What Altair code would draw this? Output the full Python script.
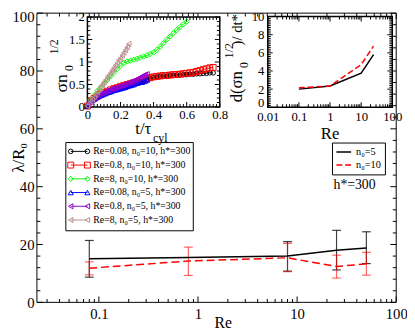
import altair as alt
import pandas as pd

FONT = "Liberation Serif"

# ---------------- main panel data ----------------
re_main = [0.08, 0.8, 8, 25, 50]
lam_n5 = [15.1, 15.5, 16.0, 18.0, 18.8]
lam_n10 = [11.8, 14.3, 15.4, 12.4, 13.3]
n5_lo = [8.7, None, 10.8, 11.2, 13.4]
n5_hi = [21.4, None, 21.0, 24.9, 24.4]
n10_lo = [9.5, 9.3, 10.6, 8.4, 9.4]
n10_hi = [14.0, 19.1, 20.4, 16.3, 17.3]

# ---------------- right inset data ----------------
re_rate = [0.1, 1, 10, 25]
rate_n5 = [2.0, 2.35, 3.75, 5.8]
rate_n10 = [2.15, 2.35, 4.7, 6.75]

# ---------------- left inset data ----------------
t_long = [0.00, 0.02, 0.04, 0.06, 0.08, 0.10, 0.12, 0.14, 0.16, 0.18, 0.20, 0.22, 0.24,
          0.26, 0.28, 0.30, 0.32, 0.34, 0.36, 0.38, 0.40, 0.42, 0.44, 0.46, 0.48, 0.50,
          0.52, 0.54, 0.56, 0.58, 0.60, 0.62, 0.64, 0.66, 0.68, 0.70, 0.72, 0.74, 0.76]
s_black = [0.02, 0.12, 0.18, 0.23, 0.27, 0.31, 0.34, 0.37, 0.40, 0.42, 0.45, 0.47, 0.49,
           0.51, 0.53, 0.55, 0.57, 0.59, 0.62, 0.64, 0.66, 0.67, 0.68, 0.69, 0.69, 0.70,
           0.70, 0.71, 0.71, 0.72, 0.72, 0.73, 0.73, 0.74, 0.74, 0.75, 0.75, 0.76, 0.76]
s_red = [0.02, 0.13, 0.19, 0.24, 0.28, 0.32, 0.35, 0.38, 0.41, 0.43, 0.46, 0.48, 0.50,
         0.52, 0.54, 0.56, 0.58, 0.61, 0.63, 0.65, 0.67, 0.68, 0.69, 0.70, 0.70, 0.71,
         0.72, 0.72, 0.73, 0.74, 0.75, 0.76, 0.77, 0.79, 0.81, 0.83, 0.85, 0.87, 0.88]
t_green = [0.00, 0.02, 0.04, 0.06, 0.08, 0.10, 0.12, 0.14, 0.16, 0.18, 0.20, 0.22, 0.24,
           0.26, 0.28, 0.30, 0.32, 0.34, 0.36, 0.38, 0.40, 0.42, 0.44, 0.46, 0.48, 0.50,
           0.52, 0.54, 0.56, 0.58, 0.60]
s_green = [0.02, 0.15, 0.26, 0.36, 0.44, 0.52, 0.60, 0.68, 0.76, 0.84, 0.92, 0.98, 1.01,
           1.03, 1.05, 1.07, 1.10, 1.12, 1.15, 1.18, 1.21, 1.27, 1.34, 1.42, 1.50, 1.57,
           1.64, 1.71, 1.78, 1.84, 1.90]
t_short = [0.00, 0.01, 0.02, 0.03, 0.04, 0.05, 0.06, 0.07, 0.08, 0.09, 0.10, 0.11, 0.12,
           0.13, 0.14, 0.15, 0.16, 0.17, 0.18, 0.19, 0.20, 0.21, 0.22, 0.23, 0.24, 0.25,
           0.26, 0.27, 0.28, 0.29, 0.30, 0.31, 0.32, 0.33, 0.34, 0.35, 0.36]
s_blue = [0.02, 0.08, 0.12, 0.15, 0.18, 0.20, 0.22, 0.24, 0.26, 0.27, 0.29, 0.30, 0.32,
          0.33, 0.34, 0.36, 0.37, 0.38, 0.39, 0.40, 0.41, 0.42, 0.43, 0.44, 0.46, 0.47,
          0.48, 0.49, 0.50, 0.52, 0.53, 0.54, 0.56, 0.55, 0.57, 0.58, 0.60]
s_purple = [0.02, 0.09, 0.13, 0.17, 0.20, 0.23, 0.25, 0.27, 0.29, 0.31, 0.33, 0.34, 0.36,
            0.37, 0.39, 0.40, 0.41, 0.43, 0.44, 0.45, 0.47, 0.48, 0.49, 0.51, 0.52, 0.54,
            0.55, 0.57, 0.58, 0.60, 0.62, 0.64, 0.66, 0.68, 0.70, 0.72, 0.73]
t_brown = [0.00, 0.01, 0.02, 0.03, 0.04, 0.05, 0.06, 0.07, 0.08, 0.09, 0.10, 0.11, 0.12,
           0.13, 0.14, 0.15, 0.16, 0.17, 0.18, 0.19, 0.20, 0.21, 0.22, 0.23, 0.24, 0.25]
s_brown = [0.02, 0.07, 0.12, 0.17, 0.22, 0.27, 0.33, 0.38, 0.44, 0.49, 0.55, 0.60, 0.66,
           0.71, 0.76, 0.82, 0.87, 0.93, 0.98, 1.04, 1.09, 1.15, 1.21, 1.27, 1.33, 1.40]

series_labels = ["Re=0.08, n\u2080=10,  h*=300", "Re=0.8, n\u2080=10, h*=300",
                 "Re=8, n\u2080=10, h*=300", "Re=0.08, n\u2080=5, h*=300",
                 "Re=0.8, n\u2080=5, h*=300", "Re=8, n\u2080=5, h*=300"]
series_t = [t_long, t_long, t_green, t_short, t_short, t_brown]
series_s = [s_black, s_red, s_green, s_blue, s_purple, s_brown]
series_colors = ["#000000", "#ff0000", "#00ff00", "#0000ff", "#9400d3", "#bc8f8f"]
series_shapes = ["circle", "square", "diamond", "triangle-up", "triangle-left", "triangle-left"]
series_sizes = [22, 36, 30, 28, 28, 28]

leg2_labels = ["n\u2080=5", "n\u2080=10"]
hstar_text = "h*=300"

# tick positions
main_x_major = [0.1, 1, 10, 100]
main_x_minor = [m * 10.0 ** e for e in (-2, -1, 0, 1) for m in range(2, 10) if m * 10.0 ** e > 0.025]
main_y_major = [0, 20, 40, 60, 80, 100]
main_y_minor = [v for v in range(0, 101, 4) if v % 20 != 0]
in1_x_major = [0, 0.2, 0.4, 0.6, 0.8]
in1_x_minor = [round(i * 0.02, 2) for i in range(41) if i % 10 != 0]
in1_y_major = [0, 0.5, 1, 1.5, 2]
in1_y_minor = [round(i * 0.1, 1) for i in range(21) if i % 5 != 0]
in2_x_major = [0.01, 0.1, 1, 10, 100]
in2_x_minor = [m * 10.0 ** e for e in (-2, -1, 0, 1) for m in range(2, 10)]
in2_y_major = [0, 2, 4, 6, 8, 10]
in2_y_minor = [round(i * 0.2, 1) for i in range(51) if i % 10 != 0]

# ---------------- geometry ----------------
W, H = 366.5, 295
OX, OY = 37.5, 10


def px(x):
    return x - OX


def py(y):
    return y - OY


main_xd, main_yd = [0.0237, 100], [0, 100]
in1_xd, in1_yd = [0, 0.8], [0, 2]
in2_xd, in2_yd = [0.01, 100], [0, 10]

main_x = alt.Scale(type="log", domain=main_xd, range=[0, W], nice=False)
main_y = alt.Scale(domain=main_yd, range=[H, 0], nice=False, zero=False)
in1_x = alt.Scale(domain=in1_xd, range=[px(89), px(224)], nice=False, zero=False)
in1_y = alt.Scale(domain=in1_yd, range=[py(105.7), py(14)], nice=False, zero=False)
in2_x = alt.Scale(type="log", domain=in2_xd, range=[px(273), px(400)], nice=False)
in2_y = alt.Scale(domain=in2_yd, range=[py(106), py(13.5)], nice=False, zero=False)

ONE = pd.DataFrame({"a": [0]})


def frame(xs, ys, xd, yd, sw, fill, xaxis=None, yaxis=None):
    df = pd.DataFrame({"x0": [xd[0]], "x1": [xd[1]], "y0": [yd[0]], "y1": [yd[1]]})
    if fill:
        mk = alt.Chart(df).mark_rect(fill=fill, stroke="black", strokeWidth=sw)
    else:
        mk = alt.Chart(df).mark_rect(filled=False, stroke="black", strokeWidth=sw)
    return mk.encode(x=alt.X("x0:Q", scale=xs, axis=xaxis), x2="x1",
                     y=alt.Y("y0:Q", scale=ys, axis=yaxis), y2="y1")


def ticks(xs, ys, xd, yd, xmaj, xmin, ymaj, ymin, lmaj, lmin):
    out = []
    for vals, L in ((xmaj, lmaj), (xmin, lmin)):
        for edge, sgn in ((yd[0], -1), (yd[1], 1)):
            df = pd.DataFrame({"v": vals, "e": [edge] * len(vals)})
            out.append(alt.Chart(df).mark_tick(orient="vertical", size=L, thickness=1,
                                               yOffset=sgn * L / 2, color="black", opacity=1).encode(
                x=alt.X("v:Q", scale=xs, axis=None), y=alt.Y("e:Q", scale=ys, axis=None)))
    for vals, L in ((ymaj, lmaj), (ymin, lmin)):
        for edge, sgn in ((xd[0], 1), (xd[1], -1)):
            df = pd.DataFrame({"v": vals, "e": [edge] * len(vals)})
            out.append(alt.Chart(df).mark_tick(orient="horizontal", size=L, thickness=1,
                                               xOffset=sgn * L / 2, color="black", opacity=1).encode(
                x=alt.X("e:Q", scale=xs, axis=None), y=alt.Y("v:Q", scale=ys, axis=None)))
    return out


def txt(s, x, y, size, angle=0, align="center", baseline="middle"):
    return alt.Chart(ONE).mark_text(text=s, font=FONT, fontSize=size, angle=angle, align=align,
                                    baseline=baseline, color="black").encode(
        x=alt.value(px(x)), y=alt.value(py(y)))


def box(x0, x1, y0, y1):
    return alt.Chart(ONE).mark_rect(fill="white", stroke="black", strokeWidth=1).encode(
        x=alt.value(px(x0)), x2=alt.value(px(x1)), y=alt.value(py(y0)), y2=alt.value(py(y1)))


AX = dict(ticks=False, domain=False, grid=False, labelFlush=False, labelOverlap=False,
          labelFont=FONT, labelColor="black", zindex=2, labelExpr="'' + datum.value")

layers = []

# ---- main frame with axes ----
main_xaxis = alt.Axis(orient="bottom", values=main_x_major, labelFontSize=15, labelPadding=4,
                      title="Re", titleFont=FONT, titleFontSize=16, titleFontWeight="normal",
                      titleColor="black", titleX=189.5, titleY=13, titleBaseline="top", **AX)
main_yaxis = alt.Axis(orient="left", values=main_y_major, labelFontSize=15, labelPadding=3,
                      labelOffset={"condition": {"test": "datum.value == 100", "value": 4}, "value": 0},
                      title="\u03bb/R\u2080", titleFont=FONT, titleFontSize=17, titleFontWeight="normal",
                      titleColor="black", titleX=-10, titleY=147, titleAngle=270,
                      titleBaseline="bottom", titleAlign="center", **AX)
layers.append(frame(main_x, main_y, main_xd, main_yd, 1, None, main_xaxis, main_yaxis))
layers += ticks(main_x, main_y, main_xd, main_yd, main_x_major, main_x_minor,
                main_y_major, main_y_minor, 6, 3.5)


# ---- main data: error bars then lines ----
def errbars(lo, hi, color, op):
    df = pd.DataFrame({"re": re_main, "lo": lo, "hi": hi}).dropna()
    base = alt.Chart(df)
    xe = alt.X("re:Q", scale=main_x, axis=None)
    return [
        base.mark_rule(color=color, strokeWidth=1.2, opacity=op).encode(
            x=xe, y=alt.Y("lo:Q", scale=main_y, axis=None), y2="hi"),
        base.mark_tick(orient="horizontal", size=9, thickness=1.2, color=color, opacity=op).encode(
            x=xe, y=alt.Y("lo:Q", scale=main_y, axis=None)),
        base.mark_tick(orient="horizontal", size=9, thickness=1.2, color=color, opacity=op).encode(
            x=xe, y=alt.Y("hi:Q", scale=main_y, axis=None)),
    ]


layers += errbars(n5_lo, n5_hi, "#000000", 0.75)
layers += errbars(n10_lo, n10_hi, "#ff0000", 0.6)

df_main = pd.DataFrame({"re": re_main, "n5": lam_n5, "n10": lam_n10})
layers.append(alt.Chart(df_main).mark_line(color="black", strokeWidth=1.5).encode(
    x=alt.X("re:Q", scale=main_x, axis=None), y=alt.Y("n5:Q", scale=main_y, axis=None)))
layers.append(alt.Chart(df_main).mark_line(color="red", strokeWidth=1.5, strokeDash=[8, 4]).encode(
    x=alt.X("re:Q", scale=main_x, axis=None), y=alt.Y("n10:Q", scale=main_y, axis=None)))

# ---- legend of left inset ----
layers.append(box(67, 197, 142, 232))
df_leg = pd.DataFrame({"idx": list(range(6)), "label": series_labels, "color": series_colors,
                       "shape": series_shapes, "msize": series_sizes})
leg_y = alt.Y("idx:Q", scale=alt.Scale(domain=[0, 5], range=[py(151), py(221)], nice=False, zero=False), axis=None)
layers.append(alt.Chart(df_leg).mark_rule(strokeWidth=1).encode(
    x=alt.value(px(72)), x2=alt.value(px(89)), y=leg_y, color=alt.Color("color:N", scale=None)))
for xx in (72, 89):
    layers.append(alt.Chart(df_leg).mark_point(filled=False, strokeWidth=1, opacity=1).encode(
        x=alt.value(px(xx)), y=leg_y, color=alt.Color("color:N", scale=None),
        shape=alt.Shape("shape:N", scale=None), size=alt.Size("msize:Q", scale=None)))
layers.append(alt.Chart(df_leg).mark_text(align="left", baseline="middle", font=FONT, fontSize=10,
                                          color="black").encode(
    x=alt.value(px(95)), y=leg_y, text="label:N"))

# ---- legend of right inset ----
layers.append(box(339, 393, 142.5, 175))
for lab, col, dash, yy in ((leg2_labels[0], "black", [1, 0], 151.7), (leg2_labels[1], "red", [6, 3], 165)):
    layers.append(alt.Chart(ONE).mark_rule(color=col, strokeWidth=1.5, strokeDash=dash).encode(
        x=alt.value(px(343)), x2=alt.value(px(358)), y=alt.value(py(yy))))
    layers.append(txt(lab, 363, yy, 10.5, align="left"))
layers.append(txt(hstar_text, 361.5, 185, 14))

# ---- left inset ----
in1_xaxis = alt.Axis(orient="bottom", values=in1_x_major, labelFontSize=13, labelPadding=2,
                     offset=-(H - py(105.7)), title=None, **AX)
in1_yaxis = alt.Axis(orient="left", values=in1_y_major, labelFontSize=13, labelPadding=3,
                     offset=-px(89), title=None, **AX)
layers.append(frame(in1_x, in1_y, in1_xd, in1_yd, 1.5, "white", in1_xaxis, in1_yaxis))
layers += ticks(in1_x, in1_y, in1_xd, in1_yd, in1_x_major, in1_x_minor,
                in1_y_major, in1_y_minor, 5, 3)

rows = []
for k in range(6):
    for t, s in zip(series_t[k], series_s[k]):
        rows.append({"series": k, "t": t, "s": s, "color": series_colors[k],
                     "shape": series_shapes[k], "msize": series_sizes[k]})
df_in1 = pd.DataFrame(rows)
layers.append(alt.Chart(df_in1).mark_line(strokeWidth=1).encode(
    x=alt.X("t:Q", scale=in1_x, axis=None), y=alt.Y("s:Q", scale=in1_y, axis=None),
    color=alt.Color("color:N", scale=None), detail="series:N"))
layers.append(alt.Chart(df_in1).mark_point(filled=False, strokeWidth=1, opacity=1).encode(
    x=alt.X("t:Q", scale=in1_x, axis=None), y=alt.Y("s:Q", scale=in1_y, axis=None),
    color=alt.Color("color:N", scale=None), shape=alt.Shape("shape:N", scale=None),
    size=alt.Size("msize:Q", scale=None)))

layers.append(txt("t/\u03c4", 146, 128.5, 17))
layers.append(txt("cyl", 156, 137.5, 12, align="left"))
layers.append(txt("\u03c3n", 63.5, 91, 18, angle=270, align="left"))
layers.append(txt("0", 70, 69, 12, angle=270, align="left"))
layers.append(txt("1/2", 55, 52, 12, angle=270, align="left"))

# ---- right inset ----
in2_xaxis = alt.Axis(orient="bottom", values=in2_x_major, labelFontSize=13, labelPadding=4,
                     offset=-(H - py(106)), title=None, **AX)
in2_yaxis = alt.Axis(orient="left", values=in2_y_major, labelFontSize=13, labelPadding=4,
                     labelOffset={"condition": {"test": "datum.value == 0", "value": -5}, "value": 0},
                     offset=-px(273), title=None, **AX)
layers.append(frame(in2_x, in2_y, in2_xd, in2_yd, 1.5, "white", in2_xaxis, in2_yaxis))
layers += ticks(in2_x, in2_y, in2_xd, in2_yd, in2_x_major, in2_x_minor,
                in2_y_major, in2_y_minor, 5, 3)
df_in2 = pd.DataFrame({"re": re_rate, "n5": rate_n5, "n10": rate_n10})
layers.append(alt.Chart(df_in2).mark_line(color="black", strokeWidth=1.5).encode(
    x=alt.X("re:Q", scale=in2_x, axis=None), y=alt.Y("n5:Q", scale=in2_y, axis=None)))
layers.append(alt.Chart(df_in2).mark_line(color="red", strokeWidth=1.5, strokeDash=[6, 3]).encode(
    x=alt.X("re:Q", scale=in2_x, axis=None), y=alt.Y("n10:Q", scale=in2_y, axis=None)))

layers.append(txt("Re", 336.5, 133, 17))
layers.append(txt("d(\u03c3n", 242, 101, 17, angle=270, align="left"))
layers.append(txt("0", 249, 66, 12, angle=270, align="left"))
layers.append(txt("1/2", 234, 56, 12, angle=270, align="left"))
layers.append(txt(")/ dt*", 242, 43, 15, angle=270, align="left"))

chart = alt.layer(*layers).resolve_scale(x="independent", y="independent").resolve_axis(
    x="independent", y="independent").properties(
    width=W, height=H, autosize=alt.AutoSizeParams(type="none"),
    padding={"left": 29.5, "top": 2, "right": 11, "bottom": 27}).configure_view(stroke=None)

chart.save("out.html", embed_options={"renderer": "svg", "actions": False})
